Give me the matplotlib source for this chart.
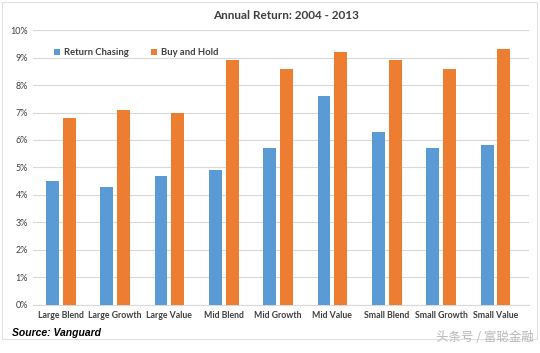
import matplotlib.pyplot as plt
from matplotlib.patches import Rectangle
import numpy as np

categories = ['Large Blend', 'Large Growth', 'Large Value', 'Mid Blend', 'Mid Growth',
              'Mid Value', 'Small Blend', 'Small Growth', 'Small Value']
return_chasing = [4.5, 4.3, 4.7, 4.9, 5.7, 7.6, 6.3, 5.7, 5.8]
buy_and_hold = [6.8, 7.1, 7.0, 8.9, 8.6, 9.2, 8.9, 8.6, 9.3]
yticks = list(range(0, 11))

plt.rcParams['font.family'] = ['Lato', 'DejaVu Sans']

fig = plt.figure(figsize=(5.4, 3.53), dpi=100)
ax = fig.add_axes([0.062, 0.136, 0.918, 0.779])

x = np.arange(len(categories))
width = 0.237
ax.bar(x - 0.155, return_chasing, width, color='#5B9BD5', label='Return Chasing', zorder=3)
ax.bar(x + 0.155, buy_and_hold, width, color='#ED7D31', label='Buy and Hold', zorder=3)

ax.set_ylim(0, 10)
ax.set_xlim(-0.5, 8.62)
ax.set_yticks(yticks)
ax.set_yticklabels([f'{t}%' for t in yticks], fontsize=6.5, color='#404040')
ax.set_xticks(x)
ax.set_xticklabels(categories, fontsize=6.3, color='#404040', fontweight='bold')
ax.tick_params(length=0, pad=4)
ax.grid(axis='y', color='#d9d9d9', linewidth=0.8, zorder=0)
for s in ax.spines.values():
    s.set_visible(False)
ax.spines['bottom'].set_visible(True)
ax.spines['bottom'].set_color('#d9d9d9')

ax.legend(loc='upper left', bbox_to_anchor=(0.025, 0.965), ncol=2, frameon=False,
          handlelength=0.6, handleheight=0.6, columnspacing=2.4, handletextpad=0.4,
          labelcolor='#404040', prop={'weight': 'bold', 'size': 6.8})

fig.text(0.53, 0.957, 'Annual Return: 2004 - 2013', ha='center', va='center',
         fontsize=8.5, color='#404040', fontweight='bold')
fig.text(0.022, 0.057, 'Source: Vanguard', ha='left', va='center',
         fontsize=7.5, fontweight='bold', style='italic', color='black',
         family=['Liberation Sans', 'DejaVu Sans'])
fig.text(0.988, 0.025, '头条号 / 富聪金融', ha='right', va='bottom', fontsize=9,
         color='#b8b8b8', family=['Noto Sans CJK SC', 'DejaVu Sans'])

# faint outer frame of the original chart
fig.patches.append(Rectangle((0.004, 0.04), 0.99, 0.955, transform=fig.transFigure,
                             fill=False, edgecolor='#e0e0e0', linewidth=0.8))

fig.savefig('out.png', dpi=100)
